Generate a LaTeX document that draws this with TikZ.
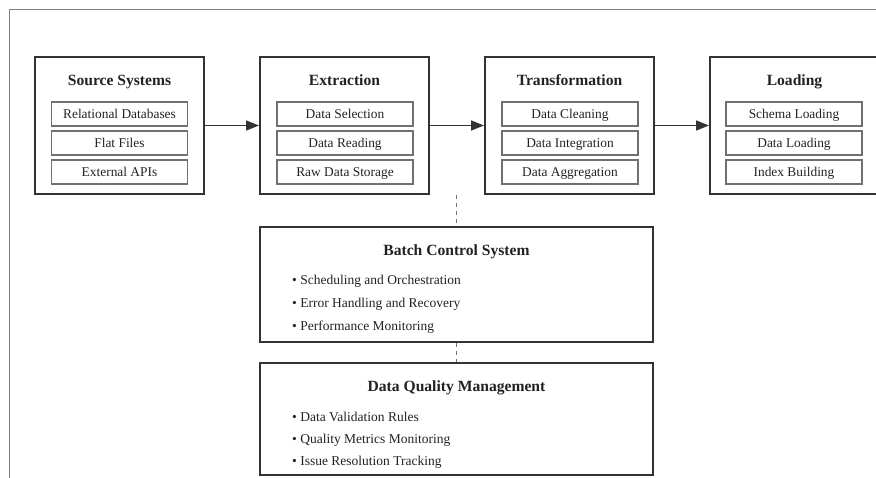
\documentclass[tikz,border=0pt]{standalone}
\usepackage{fontspec}
\setmainfont{Liberation Serif}
\usetikzlibrary{arrows.meta}
\definecolor{boxline}{HTML}{333333}
\definecolor{subline}{HTML}{707070}
\definecolor{frameline}{HTML}{808080}
\definecolor{txt}{HTML}{222222}
\tikzset{
  mainbox/.style={draw=boxline, line width=2pt, minimum width=169pt, minimum height=137pt, inner sep=0pt},
  subbox/.style={draw=subline, line width=1.3pt, minimum width=136pt, minimum height=24pt, inner sep=0pt, text=txt, font=\fontsize{13.4}{15}\selectfont, text height=1.05em, text depth=0.2em},
  titletext/.style={text=txt, font=\fontsize{15.6}{18}\selectfont\bfseries, inner sep=0pt, text height=1.05em, text depth=0.2em},
  widebox/.style={draw=boxline, line width=2pt, minimum width=393pt, inner sep=0pt},
  bullettext/.style={text=txt, font=\fontsize{13.5}{15}\selectfont, anchor=west, inner sep=0pt, text height=1.05em, text depth=0.2em},
  flowarrow/.style={draw=boxline, line width=1.5pt, -{Triangle[length=13pt,width=10pt]}},
  dashline/.style={draw=subline, line width=1pt, dash pattern=on 4pt off 4pt},
}
\begin{document}
\begin{tikzpicture}[x=1pt,y=-1pt]
\useasboundingbox (0,0) rectangle (876,477);
\clip (0,0) rectangle (876,477);
\node[draw=frameline, line width=1.3pt, minimum width=900pt, minimum height=500pt, anchor=north west, inner sep=0pt] (frame) at (8.5,8.5) {};

% top row
\node[mainbox] (src) at (119.5,125.5) {};
\node[titletext] (srcT) at (119.5,81) {Source Systems};
\node[subbox] (src1) at (119.5,114) {Relational Databases};
\node[subbox] (src2) at (119.5,143) {Flat Files};
\node[subbox] (src3) at (119.5,172) {External APIs};

\node[mainbox] (ext) at (344.5,125.5) {};
\node[titletext] (extT) at (344.5,81) {Extraction};
\node[subbox] (ext1) at (345,114) {Data Selection};
\node[subbox] (ext2) at (345,143) {Data Reading};
\node[subbox] (ext3) at (345,172) {Raw Data Storage};

\node[mainbox] (trn) at (569.5,125.5) {};
\node[titletext] (trnT) at (569.5,81) {Transformation};
\node[subbox] (trn1) at (570,114) {Data Cleaning};
\node[subbox] (trn2) at (570,143) {Data Integration};
\node[subbox] (trn3) at (570,172) {Data Aggregation};

\node[mainbox] (lod) at (794.5,125.5) {};
\node[titletext] (lodT) at (794.5,81) {Loading};
\node[subbox] (lod1) at (794,114) {Schema Loading};
\node[subbox] (lod2) at (794,143) {Data Loading};
\node[subbox] (lod3) at (794,172) {Index Building};

\draw[flowarrow] (src) -- (ext);
\draw[flowarrow] (ext) -- (trn);
\draw[flowarrow] (trn) -- (lod);

% batch control
\node[widebox, minimum height=115pt] (bcs) at (456.5,284.5) {};
\node[titletext] (bcsT) at (456.5,251) {Batch Control System};
\node[bullettext] (bcs1) at (292,280) {• Scheduling and Orchestration};
\node[bullettext] (bcs2) at (292,303) {• Error Handling and Recovery};
\node[bullettext] (bcs3) at (292,326) {• Performance Monitoring};

% data quality
\node[widebox, minimum height=112pt] (dqm) at (456.5,419) {};
\node[titletext] (dqmT) at (456.5,387) {Data Quality Management};
\node[bullettext] (dqm1) at (292,417) {• Data Validation Rules};
\node[bullettext] (dqm2) at (292,439) {• Quality Metrics Monitoring};
\node[bullettext] (dqm3) at (292,461) {• Issue Resolution Tracking};

\draw[dashline] (bcs.north |- ext.south) -- (bcs.north);
\draw[dashline] (bcs.south) -- (dqm.north);
\end{tikzpicture}
\end{document}
